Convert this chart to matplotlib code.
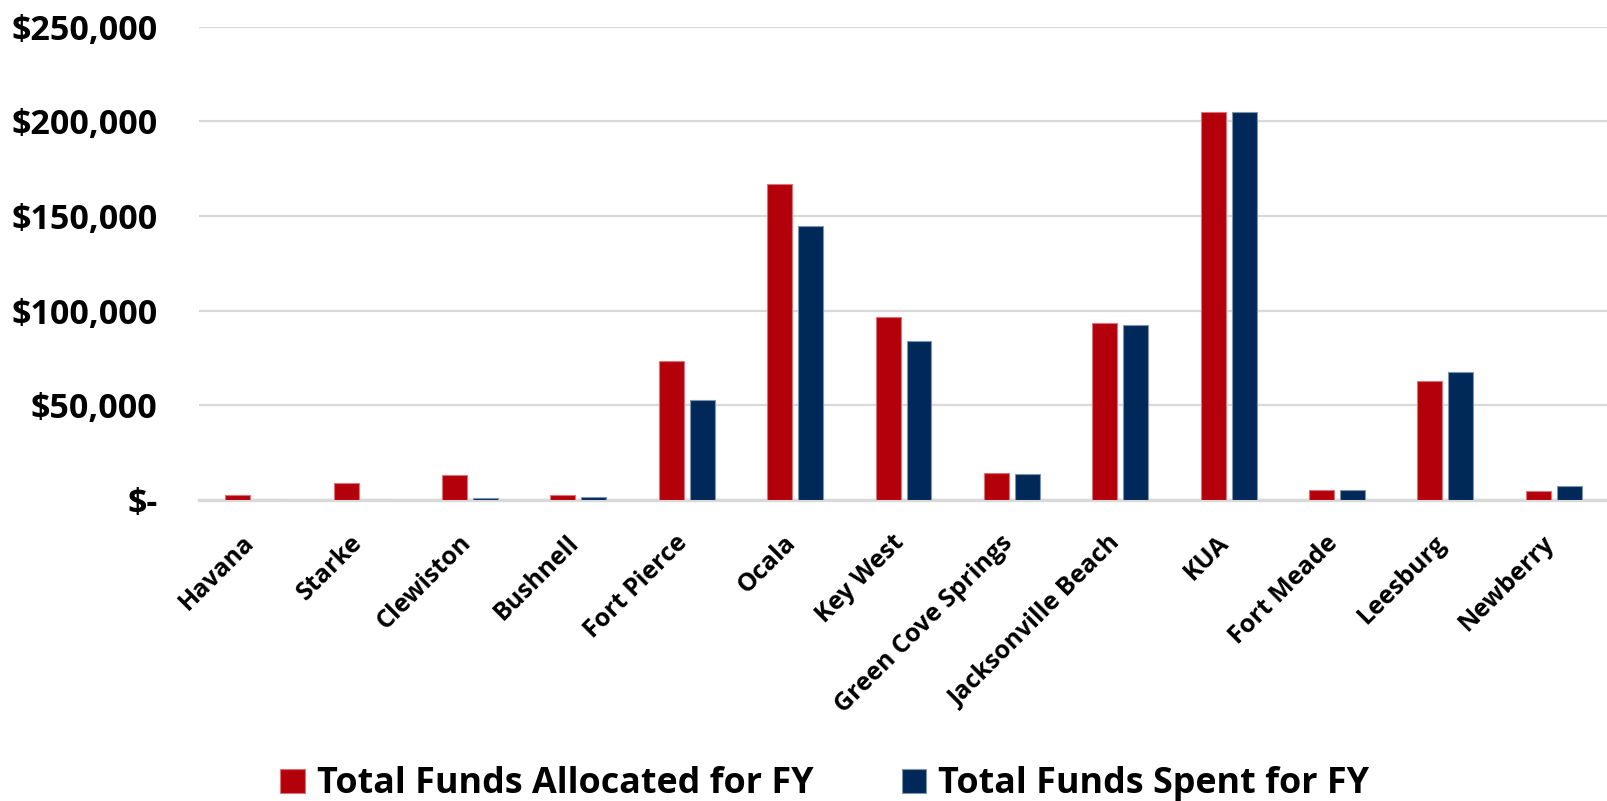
#!/usr/bin/env python3

import numpy as np
import matplotlib.pyplot as plt
import matplotlib.transforms as mtransforms
from matplotlib.ticker import FuncFormatter

cities = ['Havana', 'Starke', 'Clewiston', 'Bushnell', 'Fort Pierce', 'Ocala',
          'Key West', 'Green Cove Springs', 'Jacksonville Beach', 'KUA',
          'Fort Meade', 'Leesburg', 'Newberry']

allocated = [2700, 8800, 13400, 2700, 73400, 166900, 96500, 14400, 93500,
             204800, 5300, 62800, 4700]
spent     = [0, 0, 1100, 1800, 52800, 144700, 84100, 13500, 92400,
             204800, 5400, 67600, 7400]

labels = ['Total Funds Allocated for FY', 'Total Funds Spent for FY']
colors = ['#B4000A', '#00295A']
edges  = ['#D9757A', '#7F94AD']

plt.rcParams['font.family'] = ['Open Sans', 'DejaVu Sans']
plt.rcParams['font.weight'] = 'bold'


# ------------------------------------------------------------------------------
#
def money(v, pos):
    if v == 0:
        return '$-'
    return '${:,.0f}'.format(v)


# ------------------------------------------------------------------------------
#
def main():

    fig = plt.figure(figsize=(16.08, 8.01), dpi=100)
    ax  = fig.add_axes([0.1238, 0.3758, 0.8762, 0.5909])

    x   = np.arange(len(cities))
    w   = 0.23
    off = 0.143

    for i, vals in enumerate([allocated, spent]):
        ax.bar(x + (2 * i - 1) * off, vals, width=w, color=colors[i],
               edgecolor=edges[i], linewidth=0.8, label=labels[i], zorder=5)

    ax.set_xlim(-0.5, len(cities) - 0.5)
    ax.set_ylim(0, 250000)
    ax.set_yticks(np.arange(0, 250001, 50000))
    ax.yaxis.set_major_formatter(FuncFormatter(money))

    ax.grid(axis='y', color='#D9D9D9', linewidth=1.6, zorder=0)
    for s in ['top', 'right', 'left']:
        ax.spines[s].set_visible(False)
    ax.spines['bottom'].set_color('#D9D9D9')
    ax.spines['bottom'].set_linewidth(2.4)
    ax.spines['bottom'].set_zorder(4)

    ax.tick_params(axis='both', length=0)
    ax.tick_params(axis='y', labelsize=24.5, pad=30)
    ax.set_xticks(x)
    ax.set_xticklabels(cities, rotation=45, ha='right', va='top',
                       rotation_mode='anchor', fontsize=18)
    ax.tick_params(axis='x', pad=22)
    shift = mtransforms.ScaledTranslation(-12 / 100, 0, fig.dpi_scale_trans)
    for t in ax.get_xticklabels():
        t.set_transform(t.get_transform() + shift)
    for t in ax.get_yticklabels() + ax.get_xticklabels():
        t.set_fontweight('bold')

    fig.legend(loc='lower center', ncol=2, frameon=False,
               bbox_to_anchor=(0.513, -0.042),
               handlelength=0.68, handleheight=0.68, handletextpad=0.35,
               columnspacing=2.45, prop={'weight': 'bold', 'size': 25.8})

    fig.savefig('out.png', dpi=100)


# ------------------------------------------------------------------------------
#
if __name__ == '__main__':

    main()


# ------------------------------------------------------------------------------
